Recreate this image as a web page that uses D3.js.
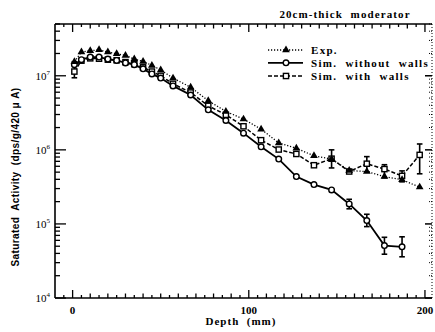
<!DOCTYPE html>
<html><head><meta charset="utf-8">
<script src="https://cdn.jsdelivr.net/npm/d3@7"></script>
<style>body{margin:0;background:#fff}svg{display:block}text{white-space:pre}</style>
</head><body>
<svg id="c" width="435" height="332"></svg>
<script>
// ---- data ----
const depths = [1,5,10,15,20,25,30,35,40,45,50,57,67,77,87,97,107,117,127,137,147,157,167,177,187,197];
const expValues = [1.55e7,2.09e7,2.18e7,2.24e7,2.09e7,1.98e7,1.88e7,1.68e7,1.56e7,1.38e7,1.2e7,9.3e6,7.0e6,4.6e6,3.3e6,2.6e6,1.9e6,1.24e6,1.05e6,8.3e5,7.5e5,5.25e5,5.1e5,4.36e5,3.94e5,3.14e5];
const simNoWallDepths = [1,5,10,15,20,25,30,35,40,45,50,57,67,77,87,97,107,117,127,137,147,157,167,177,187];
const simNoWallValues = [1.41e7,1.65e7,1.79e7,1.79e7,1.68e7,1.61e7,1.49e7,1.41e7,1.24e7,1.06e7,9.3e6,7.3e6,5.5e6,3.47e6,2.49e6,1.68e6,1.1e6,7.5e5,4.36e5,3.4e5,2.88e5,1.86e5,1.11e5,5.1e4,4.9e4];
const simNoWallErrors = [[157,2.15e5,1.6e5],[167,1.35e5,9.2e4],[177,6.6e4,3.9e4],[187,6.7e4,3.6e4]];
const simWallValues = [1.14e7,1.6e7,1.72e7,1.7e7,1.65e7,1.62e7,1.53e7,1.44e7,1.3e7,1.14e7,1.0e7,7.8e6,5.95e6,3.93e6,2.97e6,2.08e6,1.35e6,1.01e6,8.8e5,6.2e5,7.6e5,5.1e5,6.5e5,5.5e5,4.45e5,8.55e5];
const simWallErrors = [[1,1.55e7,9.4e6],[147,1.0e6,5.7e5],[167,8.1e5,5.05e5],[177,6.3e5,4.2e5],[187,5.2e5,3.7e5],[197,1.2e6,4.75e5]];
const xTickLabels = [0,100,200];
const yTickExponents = [4,5,6,7];
const seriesNames = ["Exp.","Sim.  without  walls","Sim.  with  walls"];
const title = "20cm-thick  moderator";
const xLabel = "Depth  (mm)";
const yLabel = "Saturated  Activity  (dps/g/420 \u03bc A)";

// ---- layout ----
const svg = d3.select("#c");
const L=55, R=432, T=24, B=298;
const x = d3.scaleLinear().domain([-10,204]).range([L,R]);
const y = d3.scaleLog().domain([1e4,5e7]).range([B,T]);
const serif = "'Liberation Serif', 'DejaVu Serif', serif";
const sans = "'Liberation Sans', Arial, sans-serif";

// frame
const g = svg.append("g");
g.append("line").attr("x1",L).attr("x2",R).attr("y1",B).attr("y2",B).attr("stroke","#000").attr("stroke-width",1.6);
g.append("line").attr("x1",L).attr("x2",R).attr("y1",T).attr("y2",T).attr("stroke","#000").attr("stroke-width",1.6);
g.append("line").attr("x1",L).attr("x2",L).attr("y1",T).attr("y2",B).attr("stroke","#000").attr("stroke-width",1.6);
g.append("line").attr("x1",R).attr("x2",R).attr("y1",T).attr("y2",B).attr("stroke","#000").attr("stroke-width",1).attr("stroke-dasharray","1,2");

// x ticks (bottom inward, top inward)
const xt = d3.range(-5,205,5);
xt.forEach(v=>{
  const len = (v%100===0)?8:(v%10===0?4.5:3);
  const px = x(v);
  g.append("line").attr("x1",px).attr("x2",px).attr("y1",B).attr("y2",B-len).attr("stroke","#000").attr("stroke-width",1.3);
  g.append("line").attr("x1",px).attr("x2",px).attr("y1",T).attr("y2",T+len).attr("stroke","#000").attr("stroke-width",1.3);
});
xTickLabels.forEach(v=>{
  g.append("text").attr("x",x(v)).attr("y",314).attr("text-anchor","middle")
   .attr("font-family",serif).attr("font-size",11).attr("font-weight","bold").text(v);
});

// y ticks
for(let e=4;e<=7;e++){
  for(let m=1;m<10;m++){
    const v=m*Math.pow(10,e);
    if(v>5e7) break;
    const py=y(v);
    const len = m===1?11:5;
    g.append("line").attr("x1",L).attr("x2",L+len).attr("y1",py).attr("y2",py).attr("stroke","#000").attr("stroke-width",1.3);
    g.append("line").attr("x1",R).attr("x2",R-(m===1?7:3)).attr("y1",py).attr("y2",py).attr("stroke","#000").attr("stroke-width",m===1?1.5:1).attr("stroke-dasharray",m===1?null:"1,1");
  }
}
yTickExponents.forEach(e=>{
  const t = g.append("text").attr("x",50).attr("y",y(Math.pow(10,e))+4).attr("text-anchor","end")
   .attr("font-family",serif).attr("font-size",11);
  t.append("tspan").text("10");
  t.append("tspan").attr("dy",-5).attr("font-size",7).text(e);
});

// labels
svg.append("text").attr("x",345).attr("y",18).attr("text-anchor","middle").attr("font-family",serif)
  .attr("font-size",11).attr("font-weight","bold").attr("letter-spacing",1.1).text(title);
svg.append("text").attr("x",241).attr("y",325).attr("text-anchor","middle").attr("font-family",serif)
  .attr("font-size",11).attr("font-weight","bold").attr("letter-spacing",1.0).text(xLabel);
svg.append("text").attr("transform","translate(19,177) rotate(-90)").attr("text-anchor","middle")
  .attr("font-family",sans).attr("font-size",10).attr("font-weight","bold").attr("letter-spacing",0.4).text(yLabel);

// series
const line = d3.line().x(d=>x(d[0])).y(d=>y(d[1]));
const expData = depths.map((d,i)=>[d,expValues[i]]);
const noWallData = simNoWallDepths.map((d,i)=>[d,simNoWallValues[i]]);
const wallData = depths.map((d,i)=>[d,simWallValues[i]]);

const styles = [
  {w:1.3, dash:"1.2,1.8"},
  {w:1.8, dash:null},
  {w:1.5, dash:"4,2"}
];
function drawErr(errs){
  errs.forEach(([d,hi,lo])=>{
    const px=x(d);
    g.append("line").attr("x1",px).attr("x2",px).attr("y1",y(hi)).attr("y2",y(lo)).attr("stroke","#000").attr("stroke-width",1.6);
    [hi,lo].forEach(v=>g.append("line").attr("x1",px-2.8).attr("x2",px+2.8).attr("y1",y(v)).attr("y2",y(v)).attr("stroke","#000").attr("stroke-width",1.6));
  });
}
g.append("path").datum(wallData).attr("d",line).attr("fill","none").attr("stroke","#000").attr("stroke-width",styles[2].w).attr("stroke-dasharray",styles[2].dash);
g.append("path").datum(expData).attr("d",line).attr("fill","none").attr("stroke","#000").attr("stroke-width",styles[0].w).attr("stroke-dasharray",styles[0].dash);
g.append("path").datum(noWallData).attr("d",line).attr("fill","none").attr("stroke","#000").attr("stroke-width",styles[1].w);
drawErr(simWallErrors);
drawErr(simNoWallErrors);

const tri = d3.symbol().type(d3.symbolTriangle).size(26);
function triangle(sel,px,py){ sel.append("path").attr("d",tri()).attr("transform",`translate(${px},${py})`).attr("fill","#000"); }
function circle(sel,px,py){ sel.append("circle").attr("cx",px).attr("cy",py).attr("r",2.8).attr("fill","#fff").attr("stroke","#000").attr("stroke-width",1.4); }
function square(sel,px,py){ sel.append("rect").attr("x",px-2.6).attr("y",py-2.6).attr("width",5.2).attr("height",5.2).attr("fill","#fff").attr("stroke","#000").attr("stroke-width",1.4); }

wallData.forEach(d=>square(g,x(d[0]),y(d[1])));
noWallData.forEach(d=>circle(g,x(d[0]),y(d[1])));
expData.forEach(d=>triangle(g,x(d[0]),y(d[1])));

// legend
const legY=[50,62.8,76];
const markers=[triangle,circle,square];
seriesNames.forEach((n,i)=>{
  const ly=legY[i];
  g.append("line").attr("x1",268).attr("x2",303).attr("y1",ly).attr("y2",ly).attr("stroke","#000")
   .attr("stroke-width",styles[i].w).attr("stroke-dasharray",styles[i].dash);
  markers[i](g,286,ly);
  g.append("text").attr("x",311).attr("y",ly+4).attr("font-family",serif).attr("font-size",11).attr("font-weight","bold").attr("letter-spacing",1.3).text(n);
});
</script>
</body></html>
